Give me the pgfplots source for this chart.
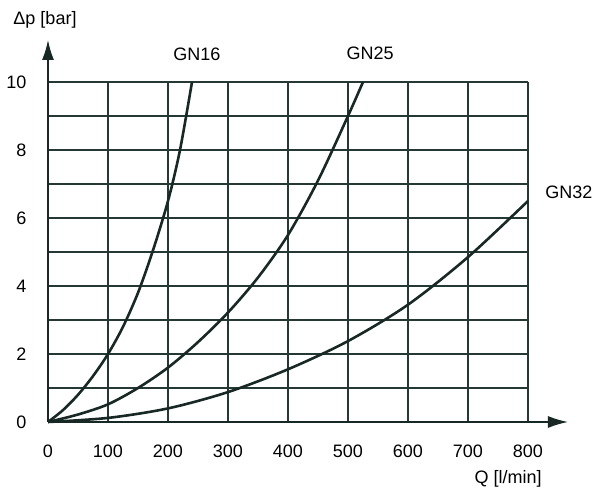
\documentclass[border=0pt]{standalone}
\usepackage{pgfplots}
\pgfplotsset{compat=1.18}
\usepackage{fontspec}
\setmainfont{Liberation Sans}
\usetikzlibrary{arrows.meta}
\definecolor{crv}{RGB}{24,40,37}
\definecolor{grd}{RGB}{38,56,52}
\newcommand{\bigf}{\fontsize{18}{21}\selectfont}
\begin{document}
\begin{tikzpicture}[x=1pt,y=1pt]
\begin{axis}[
  at={(0,0)}, anchor=south west,
  scale only axis, width=480pt, height=340pt,
  xmin=0, xmax=800, ymin=0, ymax=10,
  axis lines=left,
  x axis line style={-{Latex[length=20pt,width=12pt]}, shorten >=-40pt, line width=1.5pt, color=crv},
  y axis line style={-{Latex[length=20pt,width=12pt]}, shorten >=-42pt, line width=1.5pt, color=crv},
  xtick={0,100,...,800}, ytick={0,2,...,10}, minor ytick={1,3,...,9},
  grid=both,
  major grid style={line width=1.1pt, color=grd},
  minor grid style={line width=1.1pt, color=grd},
  major tick length=0pt, minor tick length=0pt,
  xticklabel={\bigf\pgfmathprintnumber{\tick}},
  yticklabel={\bigf\pgfmathprintnumber{\tick}},
  /pgf/number format/assume math mode=true,
  xticklabel style={yshift=-19pt, color=black},
  yticklabel style={xshift=-18pt, color=black},
  clip=false,
]
\addplot[crv, line width=2.6pt, smooth, tension=0.5] coordinates {
(0,0) (25,0.35) (50,0.8) (75,1.35) (100,2) (125,2.8) (150,3.8) (175,5.05) (200,6.5) (220,8.0) (240,10)};
\addplot[crv, line width=2.6pt, smooth] coordinates {
(0,0) (50,0.22) (100,0.52) (150,1.0) (200,1.6) (250,2.35) (300,3.22) (350,4.25) (400,5.5) (450,7.1) (500,9.0) (525,10)};
\addplot[crv, line width=2.6pt, smooth] coordinates {
(0,0) (100,0.12) (200,0.4) (300,0.88) (400,1.55) (500,2.38) (600,3.45) (700,4.85) (800,6.5)};
\node[font=\bigf] at (axis cs:248,10.82) {GN16};
\node[font=\bigf] at (axis cs:537,10.85) {GN25};
\node[font=\bigf] at (axis cs:868,6.76) {GN32};
\node[font=\bigf] at (axis cs:-5,11.82) {Δp [bar]};
\node[font=\bigf] at (axis cs:767,-1.68) {Q [l/min]};
\end{axis}
\pgfresetboundingbox
\path[use as bounding box] (-48,-67) rectangle (547,422);
\end{tikzpicture}
\end{document}
